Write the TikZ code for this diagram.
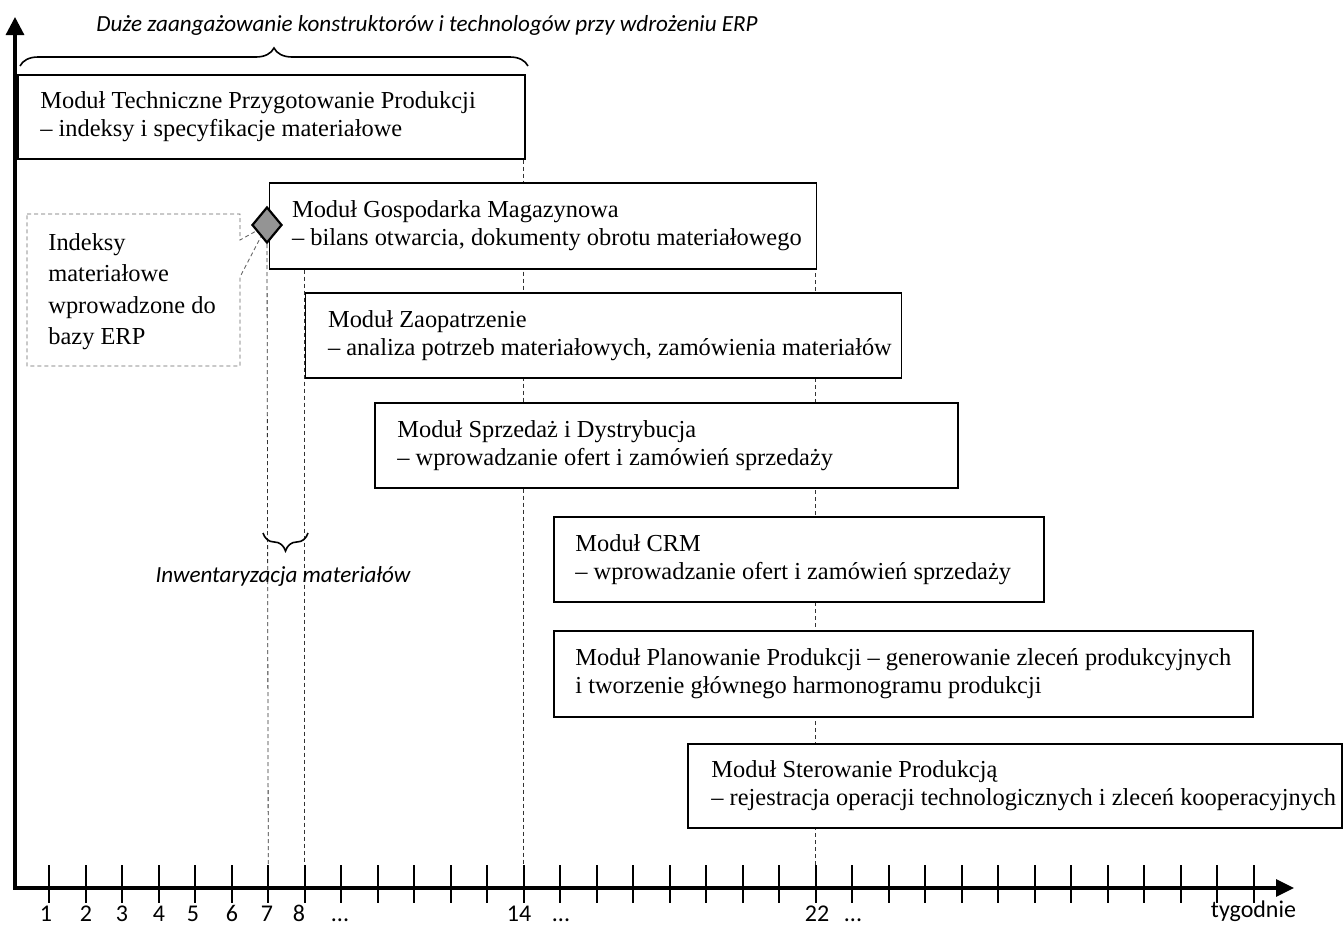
\documentclass[tikz,border=0pt]{standalone}
\usepackage{fontspec}
\setmainfont{Liberation Serif}
\newfontfamily\calfont{Carlito}
\usetikzlibrary{decorations.pathreplacing,arrows.meta,shapes.geometric}
\pgfdeclarelayer{background}
\pgfsetlayers{background,main}
\newcommand\boxfont{\fontsize{12.2}{14}\selectfont}
\newcommand\notefont{\fontsize{12.2}{15.75}\selectfont}
\newcommand\labfont{\calfont\fontsize{12}{14}\selectfont}
\newcommand\itlabfont{\calfont\itshape\fontsize{11.55}{14}\selectfont}
\begin{document}
\begin{tikzpicture}[x=0.5pt,y=-0.5pt,
  modbox/.style={draw,line width=0.75pt,fill=white,anchor=north west,inner sep=0pt},
  modtext/.style={anchor=west,align=left,inner sep=0pt,font=\boxfont},
  guide/.style={line width=0.4pt,black!80,dash pattern=on 2pt off 1.5pt},
  callout/.style={line width=0.45pt,black!60,dash pattern=on 2pt off 1.5pt},
  axisline/.style={line width=1.6pt},
  tickline/.style={line width=1pt},
  bracepath/.style={decorate,decoration={brace,amplitude=9pt},line width=0.8pt},
  ticklab/.style={anchor=base,inner sep=0pt,font=\labfont},
  itlab/.style={anchor=base,inner sep=0pt,font=\itlabfont},
  milestone/.style={diamond,draw,line width=1.1pt,fill=black!42,inner sep=0pt,minimum width=15pt,minimum height=18pt},
]
\useasboundingbox (0,0) rectangle (1343,926);

% axes
\coordinate (origin) at (15,888);
\coordinate (yend) at (15,17);
\coordinate (xend) at (1294,888);
\foreach \i in {1,...,34} \coordinate (t\i) at ({49.3+(\i-1)*36.5},888);
\foreach \i in {1,...,34} \draw[tickline] ([yshift=11.5pt]t\i) -- ([yshift=-7.5pt]t\i);
\draw[axisline,{Triangle[length=9pt,width=9pt]}-{Triangle[length=9pt,width=8.5pt]}] (yend) -- (origin) -- (xend);

% tick labels
\node[ticklab] (l1) at (46,921) {1};
\node[ticklab] (l2) at (86,921) {2};
\node[ticklab] (l3) at (122,921) {3};
\node[ticklab] (l4) at (159,921) {4};
\node[ticklab] (l5) at (193,921) {5};
\node[ticklab] (l6) at (232,921) {6};
\node[ticklab] (l7) at (267,921) {7};
\node[ticklab] (l8) at (299,921) {8};
\node[ticklab] (d1) at (340,921) {...};
\node[ticklab] (l14) at (519,921) {14};
\node[ticklab] (d2) at (561,921) {...};
\node[ticklab] (l22) at (817,921) {22};
\node[ticklab] (d3) at (853,921) {...};
\node[ticklab] (ltyg) at (1253.5,917) {tygodnie};

% top brace and label
\coordinate (bl) at (20,66);
\coordinate (br) at (528,66);
\draw[bracepath] (bl) -- (br);
\node[itlab] (toptext) at (427,32) {Duże zaangażowanie konstruktorów i technologów przy wdrożeniu ERP};

% module boxes
\node[modbox,minimum width=253.5pt,minimum height=42pt] (tpp) at (17,74) {};
\node[modtext] (tppt) at ([xshift=11.5pt]tpp.west) {Moduł Techniczne Przygotowanie Produkcji\\– indeksy i specyfikacje materiałowe};

\node[modbox,minimum width=273.5pt,minimum height=43pt] (gosp) at (268.7,182) {};
\node[modtext] (gospt) at ([xshift=11.5pt]gosp.west) {Moduł Gospodarka Magazynowa\\– bilans otwarcia, dokumenty obrotu materiałowego};

\node[modbox,minimum width=298pt,minimum height=42.5pt] (zaop) at (304.7,292) {};
\node[modtext] (zaopt) at ([xshift=11.5pt]zaop.west) {Moduł Zaopatrzenie\\– analiza potrzeb materiałowych, zamówienia materiałów};

\node[modbox,minimum width=291.5pt,minimum height=42.5pt] (sprz) at (374,402) {};
\node[modtext] (sprzt) at ([xshift=11.5pt]sprz.west) {Moduł Sprzedaż i Dystrybucja\\– wprowadzanie ofert i zamówień sprzedaży};

\node[modbox,minimum width=245pt,minimum height=42.5pt] (crm) at (553,516) {};
\node[modtext] (crmt) at ([xshift=11pt]crm.west) {Moduł CRM\\– wprowadzanie ofert i zamówień sprzedaży};

\node[modbox,minimum width=349.5pt,minimum height=43pt] (plan) at (553,630) {};
\node[modtext] (plant) at ([xshift=11pt]plan.west) {Moduł Planowanie Produkcji – generowanie zleceń produkcyjnych\\i tworzenie głównego harmonogramu produkcji};

\node[modbox,minimum width=327pt,minimum height=42pt] (ster) at (687,743) {};
\node[modtext] (stert) at ([xshift=12pt]ster.west) {Moduł Sterowanie Produkcją\\– rejestracja operacji technologicznych i zleceń kooperacyjnych};

% callout with milestone
\coordinate (diac) at (267,225);
\draw[callout] (27,214) -- (240,214) -- (240,240) -- (diac) -- (240,277) -- (240,366) -- (27,366) -- cycle;
\node[anchor=north west,align=left,inner sep=0pt,font=\notefont] (note) at (48,233) {Indeksy\\materiałowe\\wprowadzone do\\bazy ERP};
\node[milestone] (dia) at (diac) {};

% inventory brace
\coordinate (ib1) at (308,533);
\coordinate (ib2) at (263,533);
\draw[bracepath] (ib1) -- (ib2);
\node[itlab] (inv) at (283,582) {Inwentaryzacja materiałów};

% guide lines behind everything
\begin{pgfonlayer}{background}
\draw[guide] (dia.south) -- (t7);
\draw[guide] (gosp.south west -| t8) -- (t8);
\draw[guide] (tpp.south -| t14) -- (t14);
\draw[guide] (gosp.north -| t22) -- (t22);
\end{pgfonlayer}
\end{tikzpicture}
\end{document}
